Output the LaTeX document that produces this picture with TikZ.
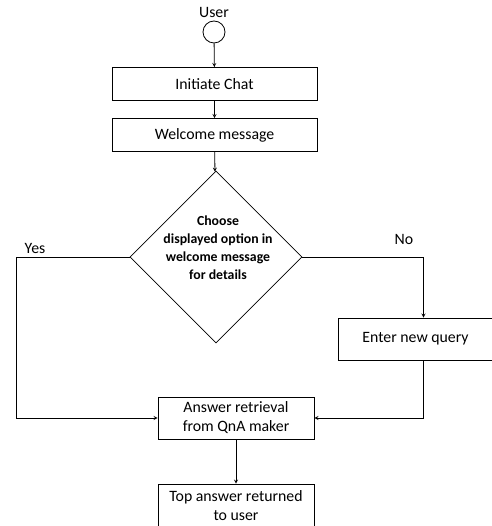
\documentclass[tikz,border=0pt]{standalone}
\usepackage{fontspec}
\setmainfont{Carlito}
\usetikzlibrary{shapes.geometric}

\begin{document}
\begin{tikzpicture}[
        x=1pt, y=-1pt, >=stealth, line width=0.8pt,
        box/.style={rectangle, draw, align=center, inner sep=2pt,
          font=\fontsize{15.8}{19}\selectfont},
        decision/.style={diamond, draw, inner sep=0pt,
          minimum width=172pt, minimum height=172pt},
        decisiontext/.style={align=center, font=\bfseries\fontsize{13.8}{18}\selectfont},
        lbl/.style={font=\fontsize{15.8}{19}\selectfont}
      ]
        \useasboundingbox (0,0) rectangle (491,526);
        \node (user) [circle, draw, minimum size=22pt, inner sep=0pt] at (214,32) {};
        \node (userlbl) [lbl] at (214,12) {User};
        \node (init) [box, minimum width=205pt, minimum height=33pt] at (214.5,84) {Initiate Chat};
        \node (welcome) [box, minimum width=205pt, minimum height=33pt] at (214.5,135) {Welcome message};
        \node (choice) [decision] at (216,257) {};
        \node (choicetext) [decisiontext] at (218,248) {Choose\\displayed option in\\welcome message\\for details};
        \node (query) [box, minimum width=155pt, minimum height=42pt] at (415.5,339) {Enter new query};
        \node (answer) [box, minimum width=156pt, minimum height=42pt] at (236,418) {Answer retrieval\\from QnA maker};
        \node (top) [box, minimum width=156pt, minimum height=44pt] at (236,506) {Top answer returned\\to user};
        \node (yes) [lbl] at (35,248) {Yes};
        \node (no) [lbl] at (404,239) {No};
        \coordinate (yescorner) at (16,257);
        \draw[->] (user) -- (init);
        \draw[->] (init) -- (welcome);
        \draw[->] (welcome) -- (choice);
        \draw[->] (choice.west) -- (yescorner) |- (answer.west);
        \draw[->] (choice.east) -| ([xshift=8pt]query.north);
        \draw[->] ([xshift=8pt]query.south) |- (answer.east);
        \draw[->] (answer) -- (top);
      \end{tikzpicture}
\end{document}
